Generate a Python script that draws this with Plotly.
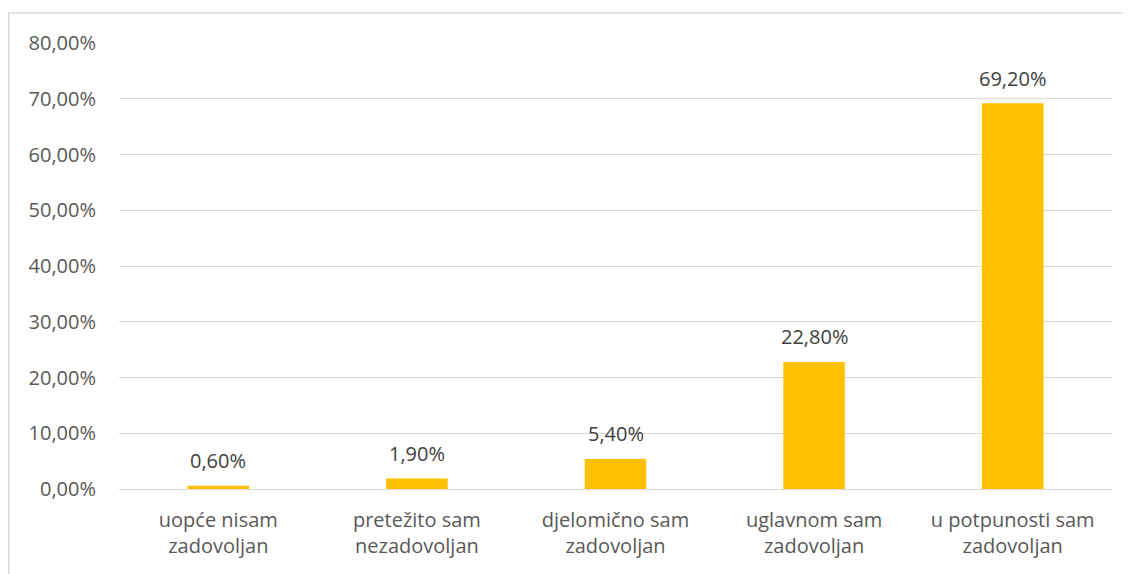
import plotly.graph_objects as go

categories = ["uopće nisam<br>zadovoljan", "pretežito sam<br>nezadovoljan", "djelomično sam<br>zadovoljan",
              "uglavnom sam<br>zadovoljan", "u potpunosti sam<br>zadovoljan"]
values = [0.6, 1.9, 5.4, 22.8, 69.2]
tick_vals = [0, 10, 20, 30, 40, 50, 60, 70, 80]
tick_text = ["0,00%", "10,00%", "20,00%", "30,00%", "40,00%", "50,00%", "60,00%", "70,00%", "80,00%"]
value_labels = [f"{v:.2f}".replace(".", ",") + "%" for v in values]

# page body has an 8px margin, so the figure is sized/offset to compensate
W, H = 1123, 566
ml, mr, mt, mb = 111, 19, 35, 85
pw, ph = W - ml - mr, H - mt - mb
FS = 20

fig = go.Figure(go.Bar(
    x=categories, y=values, width=0.31,
    marker=dict(color="#FFC000", line=dict(width=0)),
))

for c, v, t in zip(categories, values, value_labels):
    fig.add_annotation(x=c, y=v, text=t, showarrow=False, yanchor="middle", yshift=25,
                       font=dict(color="#404040", size=FS, family="Open Sans"))

fig.update_layout(
    width=W, height=H, margin=dict(l=ml, r=mr, t=mt, b=mb),
    paper_bgcolor="white", plot_bgcolor="white",
    font=dict(family="Open Sans", color="#595959", size=FS),
    showlegend=False,
    xaxis=dict(showgrid=False, showline=False, ticks="", tickfont=dict(size=FS, color="#595959"),
               ticklabelstandoff=17),
    yaxis=dict(range=[0, 80], tickvals=tick_vals, ticktext=tick_text, showgrid=True,
               gridcolor="#D9D9D9", gridwidth=1.3, zeroline=True, zerolinecolor="#D9D9D9",
               zerolinewidth=1.3,
               ticks="", ticklabelstandoff=22, tickfont=dict(size=FS, color="#595959")),
    shapes=[dict(type="rect", xref="paper", yref="paper",
                 x0=(0.8 - ml) / pw, x1=(W + 20 - ml) / pw,
                 y0=-(H + 20 - mt - ph) / ph, y1=1 + (mt - 5) / ph,
                 line=dict(color="#D9D9D9", width=1.5), layer="below")],
)

fig.write_html("out.html")
